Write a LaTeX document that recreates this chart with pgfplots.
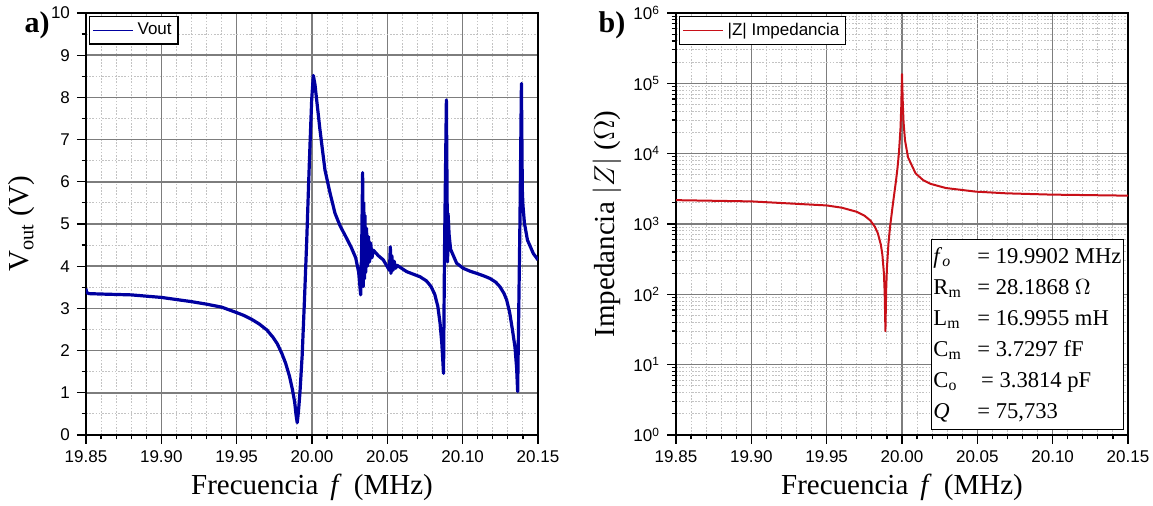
\documentclass[border=0pt]{standalone}
\usepackage{pgfplots}
\pgfplotsset{compat=1.18}
\usepackage{fontspec}
\setmainfont{Liberation Serif}
\newfontfamily\arial{Liberation Sans}
\definecolor{vblue}{RGB}{0,0,160}
\definecolor{zred}{RGB}{200,16,24}
\definecolor{majgrid}{RGB}{125,125,125}
\definecolor{mingrid}{RGB}{195,195,195}
\pgfplotsset{
  common/.style={
    scale only axis, width=226pt, height=211pt,
    axis line style={black, line width=1pt},
    tick align=outside, tick pos=left,
    major tick length=4.5pt, minor tick length=2.2pt,
    tick style={black, line width=0.6pt},
    xmajorgrids=true, ymajorgrids=true, xminorgrids=true, yminorgrids=true,
    major grid style={draw=majgrid, solid, line width=0.8pt},
    minor grid style={draw=mingrid, dash pattern=on 0.8pt off 0.8pt, line width=0.5pt},
    xmin=19.85, xmax=20.15,
    xtick={19.85,19.90,19.95,20.00,20.05,20.10,20.15},
    xticklabels={19.85,19.90,19.95,20.00,20.05,20.10,20.15},
    minor xtick={19.86,19.87,19.88,19.89,19.91,19.92,19.93,19.94,19.96,19.97,19.98,19.99,
      20.01,20.02,20.03,20.04,20.06,20.07,20.08,20.09,20.11,20.12,20.13,20.14},
    tick label style={font=\arial\fontsize{8.5}{10}\selectfont, text=black},
    xlabel={Frecuencia\, \textit{f}\, (MHz)},
    label style={font=\fontsize{14.5}{16}\selectfont},
    xlabel style={at={(axis description cs:0.5,-0.123)}, anchor=center},
    legend style={at={(0,1)}, anchor=north west, xshift=1.5pt, yshift=-1.5pt,
      draw=black, line width=0.6pt, inner sep=1.2pt,
      font=\arial\fontsize{8.5}{10}\selectfont},
    legend cell align=left,
    legend image code/.code={\draw[#1, line width=0.8pt] (0pt,0pt) -- (20pt,0pt);},
  }
}
\begin{document}
\begin{tikzpicture}
\path[use as bounding box] (-43pt,-35.5pt) rectangle (533.5pt,217.5pt);
\begin{axis}[common, at={(0pt,0pt)}, anchor=south west,
  ymin=0, ymax=10, ytick={0,1,2,3,4,5,6,7,8,9,10},
  yticklabels={0,1,2,3,4,5,6,7,8,9,10},
  minor ytick={0.5,1.5,2.5,3.5,4.5,5.5,6.5,7.5,8.5,9.5},
  ylabel={V\textsubscript{out} (V)},
  ylabel style={at={(axis description cs:-0.1416,0.5)}, anchor=center}]
\addplot[vblue, line width=1.6pt, line join=round] coordinates {
(19.8500,3.47) (19.8503,3.38) (19.8520,3.35) (19.8600,3.34) (19.8700,3.33)
(19.8800,3.32) (19.8900,3.29) (19.9000,3.26) (19.9100,3.21) (19.9200,3.16)
(19.9300,3.10) (19.9400,3.03) (19.9500,2.90) (19.9550,2.83) (19.9600,2.74)
(19.9650,2.63) (19.9700,2.49) (19.9740,2.32) (19.9770,2.16) (19.9800,1.93)
(19.9825,1.70) (19.9850,1.40) (19.9870,1.08) (19.9885,0.78) (19.9895,0.45)
(19.9902,0.29) (19.9910,0.55) (19.9920,1.00) (19.9935,1.90) (19.9950,3.20)
(19.9965,4.60) (19.9978,6.00) (19.9988,7.00) (19.9998,7.95) (20.0009,8.52)
(20.0020,8.30) (20.0031,7.94) (20.0053,7.23) (20.0086,6.28) (20.0120,5.73)
(20.0153,5.25) (20.0186,4.96) (20.0230,4.66) (20.0260,4.45) (20.0290,4.20)
(20.0310,3.85) (20.0323,3.32) (20.0330,4.50) (20.0336,6.22) (20.0340,3.52)
(20.0344,5.50) (20.0348,3.70) (20.0352,5.20) (20.0356,3.85) (20.0362,4.90)
(20.0368,4.00) (20.0375,4.70) (20.0382,4.10) (20.0390,4.55) (20.0398,4.20)
(20.0407,4.38) (20.0440,4.25) (20.0473,4.15) (20.0506,3.95) (20.0514,3.90)
(20.0520,4.46) (20.0524,3.83) (20.0530,4.25) (20.0537,3.90) (20.0545,4.12)
(20.0555,3.95) (20.0565,4.02) (20.0629,3.87) (20.0680,3.80) (20.0717,3.75)
(20.0760,3.65) (20.0790,3.52) (20.0815,3.33) (20.0835,3.05) (20.0850,2.65)
(20.0862,2.15) (20.0873,1.46) (20.0880,4.50) (20.0892,7.94) (20.0897,5.50)
(20.0900,4.10) (20.0903,5.25) (20.0910,4.75) (20.0920,4.40) (20.0960,4.07)
(20.1004,3.95) (20.1050,3.88) (20.1093,3.83) (20.1140,3.77) (20.1181,3.71)
(20.1220,3.62) (20.1248,3.51) (20.1275,3.35) (20.1292,3.20) (20.1312,2.90)
(20.1330,2.50) (20.1347,2.09) (20.1358,1.60) (20.1365,1.03) (20.1380,5.00)
(20.1390,8.33) (20.1396,5.80) (20.1400,5.45) (20.1410,5.02) (20.1430,4.62)
(20.1469,4.30) (20.1500,4.15)
};
\addlegendentry{Vout}
\end{axis}
\begin{axis}[common, at={(295pt,0pt)}, anchor=south west,
  ymode=log, ymin=1, ymax=1e6,
  ytick={1,10,100,1000,10000,100000,1000000},
  yticklabels={10\textsuperscript{0},10\textsuperscript{1},10\textsuperscript{2},10\textsuperscript{3},10\textsuperscript{4},10\textsuperscript{5},10\textsuperscript{6}},
  minor ytick={2,3,4,5,6,7,8,9,20,30,40,50,60,70,80,90,200,300,400,500,600,700,800,900,
    2000,3000,4000,5000,6000,7000,8000,9000,20000,30000,40000,50000,60000,70000,80000,90000,
    200000,300000,400000,500000,600000,700000,800000,900000},
  ylabel={Impedancia $|Z|$ ($\Omega$)},
  ylabel style={at={(axis description cs:-0.1527,0.5)}, anchor=center}]
\addplot[zred, line width=1pt, line join=round] coordinates {
(19.8500,2182) (19.9000,2095) (19.9500,1835) (19.9600,1706) (19.9700,1490)
(19.9750,1317) (19.9790,1120) (19.9820,914) (19.9840,735) (19.9860,504)
(19.9870,362) (19.9880,198) (19.9885,106) (19.9890,30) (19.9895,116)
(19.9900,237) (19.9910,523) (19.9920,881) (19.9940,1956) (19.9960,4094)
(19.9970,6219) (19.9980,10440) (19.9990,22810) (19.9995,45800) (20.0000,135000)
(20.0005,54900) (20.0010,28660) (20.0020,15460) (20.0040,8873) (20.0090,5244)
(20.0140,4211) (20.0190,3721) (20.0290,3249) (20.0490,2884) (20.0690,2730)
(20.0990,2616) (20.1500,2528)
};
\addlegendentry{|Z| Impedancia}
\end{axis}
\node[font=\bfseries\fontsize{15}{17}\selectfont] at (-24.5pt,205pt) {a)};
\node[font=\bfseries\fontsize{15}{17}\selectfont] at (263pt,205pt) {b)};
\node[draw=black, line width=0.6pt, fill=white, inner sep=1pt, anchor=south east,
  font=\fontsize{11.3}{15.5}\selectfont] at (519pt,2.5pt) {%
  \renewcommand\arraystretch{1}%
  \begin{tabular}{@{}p{22pt}@{}l@{}}
  \textit{f}\textsubscript{\textit{o}} & = 19.9902 MHz\\
  R\textsubscript{m} & = 28.1868 $\Omega$\\
  L\textsubscript{m} & = 16.9955 mH\\
  C\textsubscript{m} & = 3.7297 fF\\
  C\textsubscript{o} & \,= 3.3814 pF\\
  \textit{Q} & = 75,733
  \end{tabular}};
\end{tikzpicture}
\end{document}
